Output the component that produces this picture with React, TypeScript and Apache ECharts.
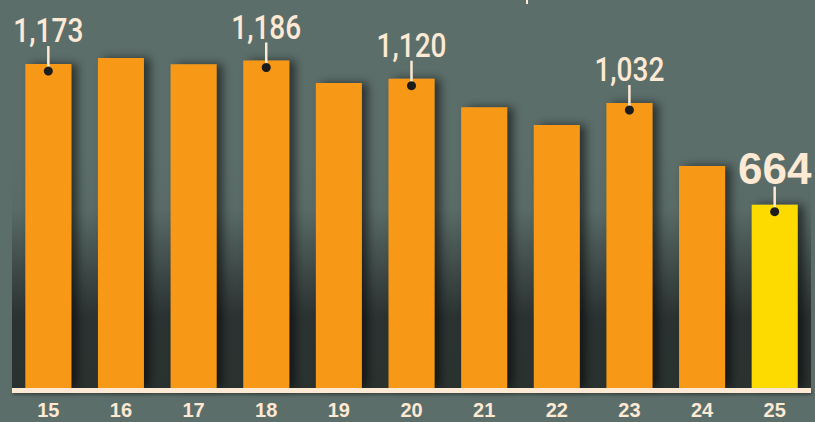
import React, { useEffect, useRef } from "react";
import * as echarts from "echarts";

const categories = ["15", "16", "17", "18", "19", "20", "21", "22", "23", "24", "25"];
const values = [1173, 1195, 1172, 1186, 1104, 1120, 1017, 952, 1032, 804, 664];
const labeledCategories = ["15", "18", "20", "23", "25"];
const highlightCategory = "25";

const BG = "#5C6E6A";
const ORANGE = "#F79818";
const YELLOW = "#FDDA00";
const CREAM = "#FDE9D4";

export default function App() {
  const ref = useRef<HTMLDivElement>(null);
  useEffect(() => {
    if (!ref.current) return;
    const chart = echarts.init(ref.current, undefined, { renderer: "svg" });
    const labelData = labeledCategories.map((c) => {
      const i = categories.indexOf(c);
      return [i, values[i], values[i].toLocaleString("en-US"), c === highlightCategory ? 1 : 0];
    });
    chart.setOption({
      animation: false,
      backgroundColor: BG,
      grid: { left: 12, right: 4, top: 0, bottom: 34, containLabel: false },
      xAxis: {
        type: "category",
        data: categories,
        axisLine: { show: false },
        axisTick: { show: false },
        axisLabel: {
          color: CREAM,
          fontFamily: "Liberation Sans",
          fontWeight: "bold",
          fontSize: 20,
          margin: 12,
        },
      },
      yAxis: {
        type: "value",
        min: 0,
        max: 1405,
        show: false,
        splitLine: { show: false },
      },
      graphic: [
        {
          type: "rect",
          z: -10,
          silent: true,
          shape: { x: 12, y: 150, width: 799, height: 238 },
          style: {
            fill: new echarts.graphic.LinearGradient(0, 0, 0, 1, [
              { offset: 0, color: "rgba(38,44,43,0)" },
              { offset: 0.25, color: "rgba(38,44,43,0.05)" },
              { offset: 0.7, color: "rgba(40,47,46,0.95)" },
              { offset: 1, color: "rgba(42,50,48,1)" },
            ]),
          },
        },
        {
          type: "rect",
          z: 100,
          silent: true,
          shape: { x: 12, y: 388, width: 799, height: 5 },
          style: {
            fill: CREAM,
            shadowBlur: 3,
            shadowOffsetX: 1,
            shadowOffsetY: 2,
            shadowColor: "rgba(0,0,0,0.35)",
          },
        },
        {
          type: "rect",
          z: 100,
          silent: true,
          shape: { x: 526, y: 0, width: 2, height: 4 },
          style: { fill: CREAM },
        },
      ],
      series: [
        {
          type: "bar",
          barWidth: 46,
          data: values.map((v, i) => ({
            value: v,
            itemStyle: {
              color: categories[i] === highlightCategory ? YELLOW : ORANGE,
            },
          })),
          itemStyle: {
            shadowBlur: 10,
            shadowOffsetX: 6,
            shadowOffsetY: 0,
            shadowColor: "rgba(0,0,0,0.55)",
          },
          z: 2,
        },
        {
          type: "custom",
          z: 5,
          data: labelData,
          renderItem: (params: any, api: any) => {
            const idx = api.value(0);
            const v = api.value(1);
            const big = api.value(3) === 1;
            const text = labelData[params.dataIndex][2] as string;
            const pt = api.coord([idx, v]);
            const x = pt[0];
            const y = pt[1];
            return {
              type: "group",
              children: [
                {
                  type: "line",
                  shape: { x1: x, y1: y - 18, x2: x, y2: y + 7 },
                  style: { stroke: CREAM, lineWidth: 2.5 },
                },
                {
                  type: "circle",
                  shape: { cx: x, cy: y + 7, r: 4.5 },
                  style: { fill: "#1C1C1C" },
                },
                {
                  type: "text",
                  x: x,
                  y: big ? y - 36 : y - 33,
                  scaleX: big ? 1 : 0.85,
                  style: {
                    text,
                    fill: CREAM,
                    font: big ? "bold 44px 'Liberation Sans'" : "500 33px Roboto, 'Liberation Sans'",
                    align: "center",
                    verticalAlign: "middle",
                  },
                },
              ],
            };
          },
        },
      ],
    });
    return () => chart.dispose();
  }, []);
  return (
    <div
      ref={ref}
      style={{ position: "fixed", left: 0, top: 0, width: 815, height: 422 }}
    />
  );
}
